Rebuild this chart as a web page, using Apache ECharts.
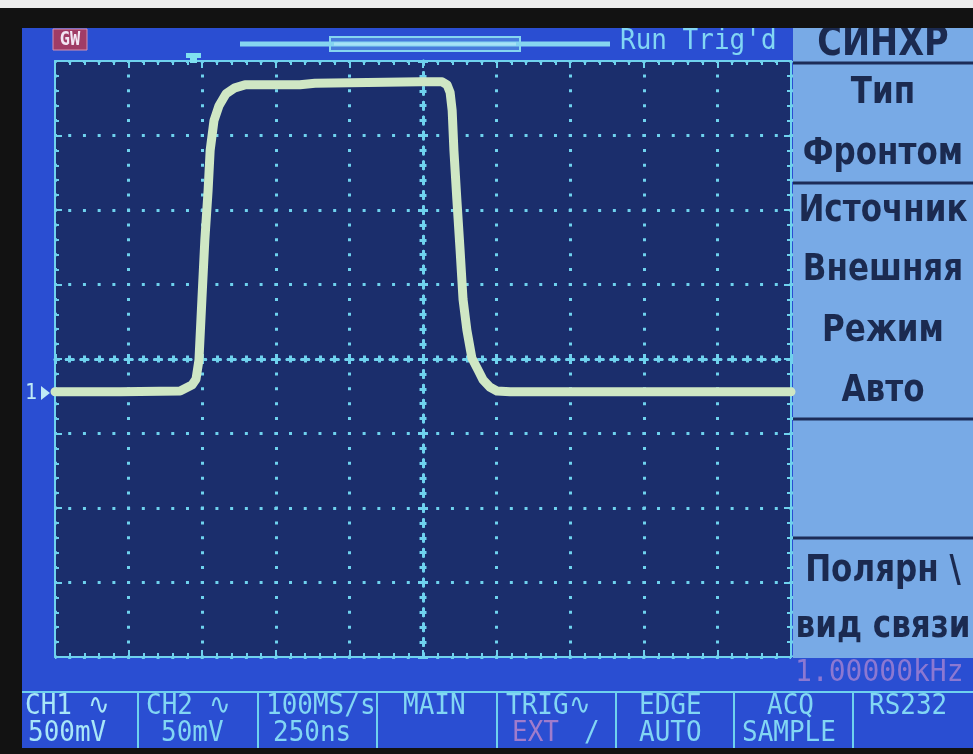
<!DOCTYPE html>
<html><head><meta charset="utf-8">
<script src="https://cdn.jsdelivr.net/npm/echarts@6/dist/echarts.min.js"></script>
<style>html,body{margin:0;padding:0;background:#101012;}#c{width:973px;height:754px;}</style>
</head><body><div id="c"></div>
<script>
// ---- data (time in ns, CH1 voltage in V) ----
const timeNs = [-1250,-1029,-825,-805,-785,-771,-761,-751,-741,-730,-723,-710,-693,-669,-639,-605,-418,-367,-10,65,82,92,99,105,115,126,136,149,166,187,204,228,251,296,1250];
const ch1Volts = [-0.22,-0.22,-0.215,-0.195,-0.175,-0.135,-0.007,0.40,0.80,1.13,1.40,1.60,1.70,1.78,1.82,1.84,1.84,1.85,1.86,1.86,1.84,1.79,1.67,1.40,1.07,0.73,0.40,0.195,0.007,-0.074,-0.14,-0.19,-0.215,-0.22,-0.22];
const timeRange = [-1250, 1250];
const timeStep = 250;
const voltRange = [-2, 2];
const voltStep = 0.5;
const statusTop = ['CH1 \u223F','CH2 \u223F','100MS/s','MAIN','TRIG\u223F','EDGE','ACQ','RS232'];
const statusBottom = ['500mV','50mV','250ns','','EXT','AUTO','SAMPLE',''];
const menuTitle = 'СИНХР';
const menuItems = ['Тип','Фронтом','Источник','Внешняя','Режим','Авто','Полярн \\','вид связи'];
const topStatus = "Run Trig'd";
const freqText = '1.00000kHz';
const chMarker = '1';

// ---- layout / style ----
const CY = '#6fd2ee';
const TXT = '#82d6f4';
const G = {left:55, top:61, width:736, height:596};
const subX = G.width / 50, subY = G.height / 40;

function ax(extra, range, step){
  return Object.assign({type:'value', min:range[0], max:range[1], interval:step,
    axisLabel:{show:false}, splitLine:{show:false}}, extra);
}
function border(pos){
  return {position:pos,
    axisLine:{onZero:false, lineStyle:{color:CY, width:2}},
    axisTick:{show:true, inside:true, length:7, lineStyle:{color:CY, width:2}},
    minorTick:{show:true, splitNumber:5, length:4, lineStyle:{color:CY, width:2}}};
}
function center(pos, inside, dash){
  return {position:pos,
    axisLine:{onZero:true, onZeroAxisIndex:0, lineStyle:{color:CY, width:3, type:dash, dashOffset:3.5}},
    axisTick:{show:true, inside:inside, length:5, lineStyle:{color:CY, width:3}},
    minorTick:{show:true, splitNumber:5, length:3.5, lineStyle:{color:CY, width:3}}};
}

const xAxes = [
  ax(Object.assign(border('bottom'), {splitLine:{show:true, lineStyle:{color:CY, width:3, type:[3, subY-3], dashOffset:1.5}}}), timeRange, timeStep),
  ax(border('top'), timeRange, timeStep),
  ax(center('bottom', true, [7, subX-7]), timeRange, timeStep),
  ax(center('bottom', false, [7, subX-7]), timeRange, timeStep)
];
const yAxes = [
  ax(Object.assign(border('left'), {splitLine:{show:true, lineStyle:{color:CY, width:3, type:[3, subX-3], dashOffset:1.5}}}), voltRange, voltStep),
  ax(border('right'), voltRange, voltStep),
  ax(center('left', true, [7, subY-7]), voltRange, voltStep),
  ax(center('left', false, [7, subY-7]), voltRange, voltStep)
];

const gfx = [];
const monoFont = '"DejaVu Sans Mono", "Liberation Mono", monospace';
function txt(x, y, s, color, size, opts){
  opts = opts || {};
  gfx.push({type:'text', x:x, y:y, scaleX:opts.sx||1, scaleY:opts.sy||1.12, z:opts.z||20,
    style:{x:0, y:0, text:s, fill:color, font:(opts.weight||'normal')+' '+size+'px '+(opts.family||monoFont),
      textAlign:opts.align||'left', textVerticalAlign:'middle'}});
}
function rect(x,y,w,h,fill,z,stroke,lw){
  gfx.push({type:'rect', shape:{x:x,y:y,width:w,height:h}, z:z||5, style:{fill:fill, stroke:stroke||null, lineWidth:lw||0}});
}
function line(x1,y1,x2,y2,color,w,z){
  gfx.push({type:'line', shape:{x1:x1,y1:y1,x2:x2,y2:y2}, z:z||6, style:{stroke:color, lineWidth:w}});
}

// right menu panel
rect(793, 28, 180, 630, '#78aae6', 5);
[63, 183, 419, 538].forEach(y => line(793, y, 973, y, '#1c2c58', 3, 6));
const menuFont = '"DejaVu Sans", "Noto Sans", sans-serif';
const menuDark = '#1b2a50';
txt(883, 44, menuTitle, menuDark, 32, {family:menuFont, weight:'bold', align:'center', sy:1.3, sx:1.05});
const menuY = [93, 154, 211, 270, 331, 391, 571, 627];
menuItems.forEach((s, i) => txt(883, menuY[i], s, menuDark, 29, {family:menuFont, weight:'bold', align:'center', sy:1.3, sx:1.07}));

// top bar
rect(53, 29, 34, 21, '#a03c66', 8, '#d890b0', 1);
txt(70, 40, 'GW', '#f2e6f4', 17, {align:'center', weight:'bold', sy:1.1});
line(240, 44, 610, 44, '#86d6f0', 5, 7);
rect(330, 37, 190, 14, 'rgba(130,210,240,0.35)', 8, '#86d6f0', 2);
line(334, 44, 516, 44, '#a6e2f6', 3, 9);
txt(620, 41, topStatus, TXT, 26, {sy:1.12});
// trigger position marker
rect(186, 53, 15, 5, '#7fe0f0', 50);
rect(190, 53, 7, 10, '#7fe0f0', 50);

// channel marker
txt(25, 393, chMarker, '#bfeaf6', 20, {sy:1.1});
gfx.push({type:'polygon', z:20, shape:{points:[[41,386],[41,400],[50,393]]}, style:{fill:'#bfeaf6'}});

// frequency readout
txt(795, 673, freqText, '#8c78d2', 28, {sy:1.05});

// status bar
line(20, 692, 973, 692, CY, 2, 7);
[21, 138, 258, 377, 497, 616, 734, 853].forEach(x => line(x, 692, x, 748, CY, 2, 7));
const topX = [25, 146, 266, 403, 506, 639, 767, 869];
const botX = [28, 161, 273, 0, 512, 639, 742, 0];
const colTop = ['#a8e6f8', TXT, TXT, TXT, TXT, TXT, TXT, TXT];
statusTop.forEach((s, i) => txt(topX[i], 706, s, colTop[i], 26));
statusBottom.forEach((s, i) => { if (s) txt(botX[i], 733, s, i === 4 ? '#a07ccc' : colTop[i], 26); });
txt(584, 733, '/', TXT, 26);

// bezel
rect(0, 0, 973, 28, '#121212', 100);
rect(0, 0, 973, 8, '#ececec', 101);
rect(0, 0, 22, 754, '#121212', 100);
rect(0, 0, 5, 8, '#ececec', 101);
rect(0, 748, 973, 6, '#121212', 100);

const chart = echarts.init(document.getElementById('c'));
chart.setOption({
  animation:false,
  backgroundColor:'#2a4ed2',
  grid:Object.assign({show:true, backgroundColor:'#1b2e6c', borderWidth:0}, G),
  xAxis:xAxes,
  yAxis:yAxes,
  series:[{
    type:'line', xAxisIndex:0, yAxisIndex:0, showSymbol:false, z:10,
    data:timeNs.map((t, i) => [t, ch1Volts[i]]),
    lineStyle:{color:'#cfe7c4', width:9, join:'round', cap:'round'}
  }],
  graphic:gfx
});
</script></body></html>
